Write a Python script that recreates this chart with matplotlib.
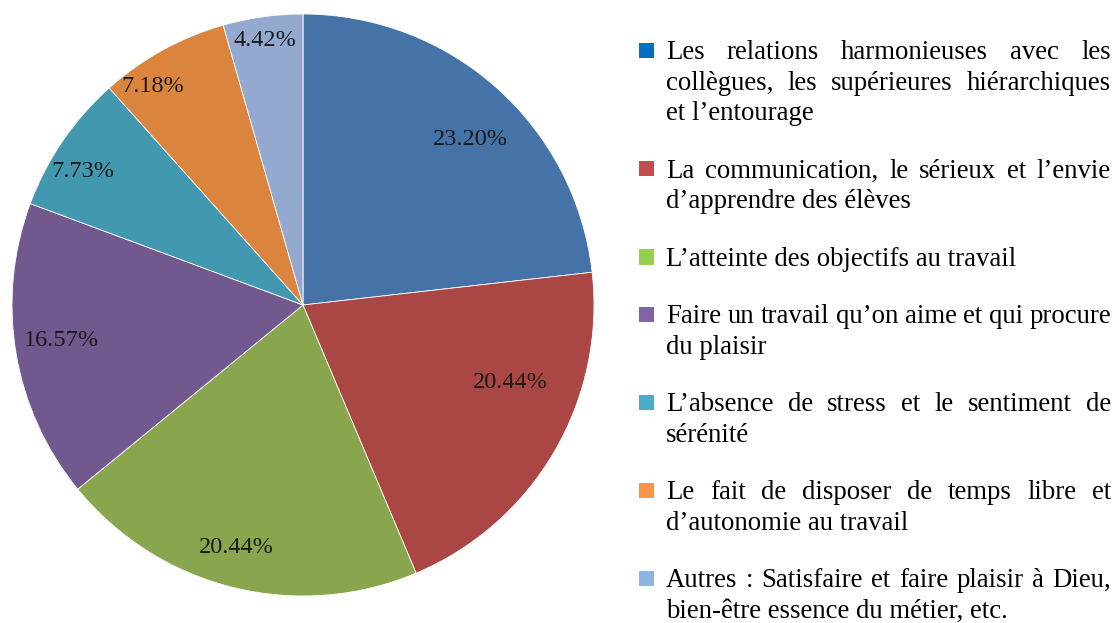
import numpy as np
import matplotlib.pyplot as plt
from matplotlib.patches import Rectangle

# Data
values = [23.20, 20.44, 20.44, 16.57, 7.73, 7.18, 4.42]
pct_labels = ["23.20%", "20.44%", "20.44%", "16.57%", "7.73%", "7.18%", "4.42%"]
categories = [
    ["Les relations harmonieuses avec les",
     "collègues, les supérieures hiérarchiques",
     "et l’entourage"],
    ["La communication, le sérieux et l’envie",
     "d’apprendre des élèves"],
    ["L’atteinte des objectifs au travail"],
    ["Faire un travail qu’on aime et qui procure",
     "du plaisir"],
    ["L’absence de stress et le sentiment de",
     "sérénité"],
    ["Le fait de disposer de temps libre et",
     "d’autonomie au travail"],
    ["Autres : Satisfaire et faire plaisir à Dieu,",
     "bien-être essence du métier, etc."],
]

# styles
slice_colors = ["#4573A7", "#AA4644", "#89A54E", "#71588F", "#4298AF", "#DB843D", "#93A9CF"]
legend_colors = ["#0070C0", "#C0504D", "#92D050", "#8064A2", "#4BACC6", "#F79646", "#8DB4E2"]
label_radius = [0.81, 0.76, 0.865, 0.84, 0.885, 0.91, 0.917]
label_shift = [-3.6, 9.7, -1.4, -1.2, 3.0, 5.7, 0.2]  # degrees, nudges from mid-angle

W, H = 1116, 623
font = "Liberation Serif"
label_size = 17.5
legend_size = 19.3

fig = plt.figure(figsize=(W / 100, H / 100), dpi=100)
fig.patch.set_facecolor("white")

# pie axes: centre (303, 305) px, radius 291 px
cx, cy, r = 303, 305, 291
ax = fig.add_axes([(cx - r) / W, 1 - (cy + r) / H, 2 * r / W, 2 * r / H])
wedges, _ = ax.pie(values, colors=slice_colors, startangle=90, counterclock=False,
                   radius=1, wedgeprops=dict(edgecolor="white", linewidth=0.6))
ax.set_xlim(-1, 1)
ax.set_ylim(-1, 1)
ax.set_aspect("equal")
ax.axis("off")

for w, lab, rr, sh in zip(wedges, pct_labels, label_radius, label_shift):
    mid = np.deg2rad((w.theta1 + w.theta2) / 2 + sh)
    ax.text(rr * np.cos(mid), rr * np.sin(mid), lab, ha="center", va="center",
            fontsize=label_size, family=font, color="#1a1a1a")

# legend with justified text
renderer = fig.canvas.get_renderer()
x0, x1 = 666, 1111
line_h = 30.5
entry_gap = 27
baseline = 59


def fx(x):
    return x / W


def fy(y):
    return 1 - y / H


for col, lines in zip(legend_colors, categories):
    fig.patches.append(Rectangle((fx(639), fy(baseline - 1)), 15 / W, 15 / H,
                                 transform=fig.transFigure, facecolor=col,
                                 edgecolor="none"))
    for i, line in enumerate(lines):
        y = baseline + i * line_h
        last = i == len(lines) - 1
        if last:
            fig.text(fx(x0), fy(y), line, ha="left", va="baseline",
                     fontsize=legend_size, family=font, color="black")
            continue
        words = line.split(" ")
        texts = [fig.text(0, fy(y), wd, ha="left", va="baseline",
                          fontsize=legend_size, family=font, color="black") for wd in words]
        widths = [t.get_window_extent(renderer).width for t in texts]
        gap = (x1 - x0 - sum(widths)) / (len(words) - 1)
        xpos = x0
        for t, wdt in zip(texts, widths):
            t.set_x(fx(xpos))
            xpos += wdt + gap
    baseline += len(lines) * line_h + entry_gap

fig.savefig("out.png", dpi=100, facecolor="white")
